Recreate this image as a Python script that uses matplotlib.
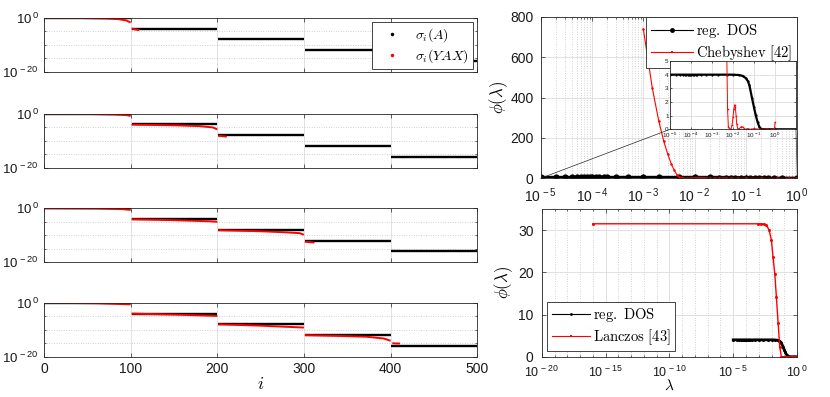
import numpy as np
import matplotlib
matplotlib.use("Agg")
import matplotlib.pyplot as plt
from matplotlib.lines import Line2D
from matplotlib.patches import ConnectionPatch
from matplotlib.ticker import FixedLocator, NullFormatter, LogLocator

plt.rcParams["font.family"] = ["Liberation Sans", "DejaVu Sans"]
plt.rcParams["mathtext.fontset"] = "custom"
plt.rcParams["mathtext.rm"] = "Liberation Sans"
plt.rcParams["mathtext.it"] = "Liberation Sans:italic"
plt.rcParams["mathtext.bf"] = "Liberation Sans:bold"

# ---- left column: singular values (log10), blocks of 100 indices ----
block_start = [1, 101, 201, 301, 401]
block_end = [100, 200, 300, 400, 500]
sigma_A_log = [0, -4, -8, -12, -16]

# sigma_i(YAX), per panel, per block: indices and log10 values
yax_idx = [
    [[1, 40, 70, 85, 95, 100], [101, 105, 110]],
    [[1, 50, 80, 95, 100], [101, 150, 180, 195, 200], [201, 205, 211]],
    [[1, 60, 90, 100], [101, 150, 190, 200], [201, 250, 276, 295, 300], [301, 306, 312]],
    [[1, 60, 100], [101, 150, 200], [201, 250, 300], [301, 340, 372, 392, 400], [402, 406, 411]],
]
yax_log = [
    [[0.0, -0.1, -0.3, -0.5, -1.0, -1.8], [-4.0, -4.3, -4.6]],
    [[0.0, -0.1, -0.3, -0.5, -0.85], [-4.05, -4.3, -4.6, -5.1, -5.8], [-8.2, -8.3, -8.5]],
    [[0.0, -0.1, -0.3, -0.6], [-4.05, -4.4, -4.8, -5.0], [-8.1, -8.5, -8.85, -9.2, -9.8], [-12.4, -12.5, -12.7]],
    [[0.0, -0.2, -0.6], [-4.05, -4.4, -4.9], [-8.0, -8.5, -9.2], [-12.0, -12.3, -12.6, -13.25, -14.1], [-15.0, -15.1, -15.1]],
]

# ---- right column: densities of states ----
dos_lam = [1e-5, 2e-5, 3e-5, 4e-5, 5e-5, 6e-5, 7e-5, 8e-5, 9e-5, 1e-4, 1.2e-4, 1.4e-4,
           1.7e-4, 2e-4, 3e-4, 5e-4, 1e-3, 2e-3, 5e-3, 1e-2, 2e-2, 3e-2, 4e-2, 5e-2,
           6e-2, 8e-2, 0.1, 0.12, 0.15, 0.18, 0.22, 0.27, 0.35, 0.5, 1.0, 10.0]
dos_val = [4.0, 4.0, 4.0, 4.0, 4.0, 4.0, 4.0, 4.0, 4.0, 4.0, 4.0, 4.0,
           4.0, 4.0, 4.0, 4.0, 4.0, 4.0, 4.0, 4.0, 3.97, 3.9, 3.75, 3.55,
           3.25, 2.3, 1.6, 1.05, 0.5, 0.18, 0.03, 0.0, 0.0, 0.0, 0.0, 0.0]

cheb_lam = [1e-3, 1.5e-3, 2e-3, 2.5e-3, 3e-3, 3.5e-3, 4e-3, 4.5e-3, 5e-3, 5.5e-3, 6e-3,
            7e-3, 8e-3, 9e-3, 1e-2, 1.1e-2, 1.2e-2, 1.3e-2, 1.4e-2, 1.5e-2, 1.7e-2, 2e-2,
            2.5e-2, 3e-2, 3.5e-2, 4e-2, 5e-2, 7e-2, 0.1, 0.2, 0.4, 0.7, 0.95, 1.0]
cheb_val = [740, 445, 284, 183, 119, 72, 40, 18, 6, 1.5, 0.2,
            0.0, 0.05, 0.3, 0.9, 1.5, 1.8, 1.6, 1.0, 0.4, 0.0, 0.05,
            0.2, 0.15, 0.05, 0.0, 0.05, 0.0, 0.05, 0.0, 0.03, 0.0, 0.05, 0.5]

lanc_lam = [1e-16, 9.5e-4, 1.6e-3, 2.5e-3, 4e-3, 6.5e-3, 9.8e-3, 1.3e-2, 1.8e-2,
            2.4e-2, 3.3e-2, 4.4e-2, 5.9e-2, 0.1, 0.2, 0.5, 1.0]
lanc_val = [31.5, 31.5, 31.5, 31.4, 31.2, 30.0, 27.6, 23.7, 19.7,
            14.2, 7.9, 2.4, 0.0, 0.0, 0.0, 0.0, 0.0]

AX_COL = "#262626"
CM = {"math_fontfamily": "cm"}


def matlab_style(ax, fs, minor_grid=True):
    """ Thin dark box, inward ticks on all sides, MATLAB-like grids. """
    ax.tick_params(which="both", direction="in", top=True, right=True,
                   labelsize=fs, color=AX_COL, labelcolor="#1a1a1a", width=0.5)
    ax.tick_params(which="major", length=3)
    ax.tick_params(which="minor", length=1.5)
    for s in ax.spines.values():
        s.set_linewidth(0.6)
        s.set_color(AX_COL)
    ax.grid(True, which="major", color="#dcdcdc", lw=0.6, ls="-")
    if minor_grid:
        ax.grid(True, which="minor", color="#a8a8a8", lw=0.5, ls=(0, (1, 2.5)))
    ax.set_axisbelow(True)


fig = plt.figure(figsize=(8.3, 3.97), dpi=100)

# ---------------- left column ----------------
bottoms = [0.8194, 0.5776, 0.3393, 0.1015]
for p in range(4):
    ax = fig.add_axes([0.053, bottoms[p], 0.522, 0.136])
    for b in range(5):
        ax.plot([block_start[b], block_end[b]], [10.0 ** sigma_A_log[b]] * 2,
                color="k", lw=1.7, solid_capstyle="butt")
    for idx, lv in zip(yax_idx[p], yax_log[p]):
        ax.plot(idx, 10.0 ** np.array(lv), color="r", lw=1.4, solid_capstyle="butt")
    ax.set_yscale("log")
    ax.set_ylim(1e-20, 1)
    ax.set_xlim(0, 500)
    ax.set_yticks([1e-20, 1])
    ax.set_yticklabels([r"$10^{\,-20}$", r"$10^{\,0}$"])
    ax.yaxis.set_minor_locator(FixedLocator([1e-15, 1e-10, 1e-5]))
    ax.yaxis.set_minor_formatter(NullFormatter())
    ax.set_xticks([0, 100, 200, 300, 400, 500])
    matlab_style(ax, 10)
    ax.grid(False, which="major", axis="y")
    ax.grid(False, which="minor", axis="x")
    ax.tick_params(axis="y", labelsize=9.5)
    if p < 3:
        ax.set_xticklabels([])
    else:
        ax.set_xlabel(r"$i$", fontsize=13, labelpad=0, **CM)
    if p == 0:
        h = [Line2D([], [], color="k", marker=".", ls="none", ms=3),
             Line2D([], [], color="r", marker=".", ls="none", ms=3)]
        leg = ax.legend(h, [r"$\sigma_i(A)$", r"$\sigma_i(YAX)$"], loc="upper right",
                        bbox_to_anchor=(0.99, 0.92), borderaxespad=0,
                        prop={"size": 10, "math_fontfamily": "cm"},
                        fancybox=False, framealpha=1, edgecolor=AX_COL,
                        handlelength=2.2, handletextpad=0.6, labelspacing=0.25,
                        borderpad=0.3)
        leg.get_frame().set_linewidth(0.6)

# ---------------- right top: Chebyshev ----------------
ax_t = fig.add_axes([0.6514, 0.5509, 0.3092, 0.407])
ax_t.plot(dos_lam, dos_val, color="k", lw=2.4, marker="o", ms=4.5, mew=0)
ax_t.plot(cheb_lam, cheb_val, color="r", lw=0.8, marker="o", ms=1.8, mew=0)
ax_t.set_xscale("log")
ax_t.set_xlim(1e-5, 1)
ax_t.set_ylim(0, 800)
ax_t.set_yticks([0, 200, 400, 600, 800])
ax_t.set_xticks([1e-5, 1e-4, 1e-3, 1e-2, 1e-1, 1])
ax_t.set_xticklabels([r"$10^{\,-5}$", r"$10^{\,-4}$", r"$10^{\,-3}$",
                      r"$10^{\,-2}$", r"$10^{\,-1}$", r"$10^{\,0}$"])
ax_t.xaxis.set_minor_locator(LogLocator(base=10, subs=np.arange(2, 10)))
ax_t.xaxis.set_minor_formatter(NullFormatter())
matlab_style(ax_t, 10)
ax_t.tick_params(axis="x", pad=6)
ax_t.tick_params(axis="y", pad=5)
ax_t.set_ylabel(r"$\phi(\lambda)$", fontsize=12, labelpad=0, **CM)
h = [Line2D([], [], color="k", lw=0.8, marker="o", ms=3.5, mew=0),
     Line2D([], [], color="r", lw=0.8, marker="s", ms=1.8, mew=0)]
leg = ax_t.legend(h, [r"$\mathrm{reg.\ DOS}$", r"$\mathrm{Chebyshev\ [42]}$"],
                  loc="upper right", bbox_to_anchor=(1, 1), borderaxespad=0,
                  prop={"size": 10.5, "math_fontfamily": "cm"}, fancybox=False,
                  framealpha=1, edgecolor=AX_COL, handlelength=2.9,
                  handletextpad=0.2, labelspacing=0.25, borderpad=0.35)
leg.get_frame().set_linewidth(0.6)

# inset
ax_in = fig.add_axes([670 / 830, 1 - 129.3 / 397, 126 / 830, 68.3 / 397])
ax_in.plot(dos_lam, dos_val, color="k", lw=1.6, marker="o", ms=1.6, mew=0)
ax_in.plot(cheb_lam, cheb_val, color="r", lw=0.7, marker="o", ms=1.2, mew=0)
ax_in.set_xscale("log")
ax_in.set_xlim(1e-5, 10)
ax_in.set_ylim(0, 5)
ax_in.set_yticks([0, 1, 2, 3, 4, 5])
ax_in.set_xticks([1e-5, 1e-4, 1e-3, 1e-2, 1e-1, 1])
ax_in.set_xticklabels([r"$10^{\,-5}$", r"$10^{\,-4}$", r"$10^{\,-3}$",
                       r"$10^{\,-2}$", r"$10^{\,-1}$", r"$10^{\,0}$"])
ax_in.xaxis.set_minor_locator(LogLocator(base=10, subs=np.arange(2, 10)))
ax_in.xaxis.set_minor_formatter(NullFormatter())
matlab_style(ax_in, 4.5)
ax_in.tick_params(which="major", length=1.5, pad=1)
ax_in.tick_params(which="minor", length=0.8)

for c in [(0, 0), (1, 0)]:
    con = ConnectionPatch(xyA=c, coordsA=ax_t.transAxes, xyB=c, coordsB=ax_in.transAxes,
                          color=AX_COL, lw=0.5)
    fig.add_artist(con)

# ---------------- right bottom: Lanczos ----------------
ax_b = fig.add_axes([0.6527, 0.1015, 0.3076, 0.372])
ax_b.plot(dos_lam, dos_val, color="k", lw=2.0, marker="o", ms=2.2, mew=0)
ax_b.plot(lanc_lam, lanc_val, color="r", lw=1.0, marker="o", ms=2.2, mew=0)
ax_b.set_xscale("log")
ax_b.set_xlim(1e-20, 1)
ax_b.set_ylim(0, 35)
ax_b.set_yticks([0, 10, 20, 30])
ax_b.set_xticks([1e-20, 1e-15, 1e-10, 1e-5, 1])
ax_b.set_xticklabels([r"$10^{\,-20}$", r"$10^{\,-15}$", r"$10^{\,-10}$",
                      r"$10^{\,-5}$", r"$10^{\,0}$"])
ax_b.xaxis.set_minor_locator(FixedLocator([10.0 ** k for k in range(-20, 1)]))
ax_b.xaxis.set_minor_formatter(NullFormatter())
matlab_style(ax_b, 10)
ax_b.tick_params(axis="x", pad=6, labelsize=9)
ax_b.tick_params(axis="y", pad=6)
ax_b.set_xlabel(r"$\lambda$", fontsize=11, labelpad=-1, **CM)
ax_b.set_ylabel(r"$\phi(\lambda)$", fontsize=12, labelpad=2, **CM)
h = [Line2D([], [], color="k", lw=0.8, marker="o", ms=2, mew=0),
     Line2D([], [], color="r", lw=0.8, marker="s", ms=2, mew=0)]
leg = ax_b.legend(h, [r"$\mathrm{reg.\ DOS}$", r"$\mathrm{Lanczos\ [43]}$"],
                  loc="lower left", bbox_to_anchor=(0.022, 0.039), borderaxespad=0,
                  prop={"size": 10.5, "math_fontfamily": "cm"}, fancybox=False,
                  framealpha=1, edgecolor=AX_COL, handlelength=2.6,
                  handletextpad=0.2, labelspacing=0.2, borderpad=0.3)
leg.get_frame().set_linewidth(0.6)

fig.savefig("out.png", dpi=100)
